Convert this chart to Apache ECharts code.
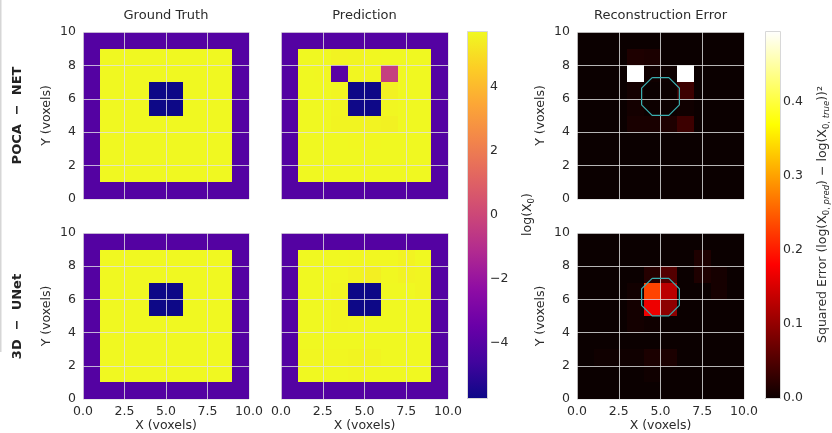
<!DOCTYPE html>
<html><head><meta charset="utf-8">
<script src="https://cdn.jsdelivr.net/npm/echarts@6/dist/echarts.min.js"></script>
<style>html,body{margin:0;padding:0;background:#fff}#c{width:832px;height:433px}</style>
</head><body><div id="c"></div>
<script>
// ---- data (rows listed from y=9 at top down to y=0) ----
const xTicks = [0, 2.5, 5, 7.5, 10];
const yTicks = [0, 2, 4, 6, 8, 10];
const logTicks = [-4, -2, 0, 2, 4];
const errTicks = [0, 0.1, 0.2, 0.3, 0.4];
const logRange = [-5.72, 5.75];
const errRange = [0, 0.495];

const truthGrid = [
  [-4.04,-4.04,-4.04,-4.04,-4.04,-4.04,-4.04,-4.04,-4.04,-4.04],
  [-4.04,5.72,5.72,5.72,5.72,5.72,5.72,5.72,5.72,-4.04],
  [-4.04,5.72,5.72,5.72,5.72,5.72,5.72,5.72,5.72,-4.04],
  [-4.04,5.72,5.72,5.72,-5.72,-5.72,5.72,5.72,5.72,-4.04],
  [-4.04,5.72,5.72,5.72,-5.72,-5.72,5.72,5.72,5.72,-4.04],
  [-4.04,5.72,5.72,5.72,5.72,5.72,5.72,5.72,5.72,-4.04],
  [-4.04,5.72,5.72,5.72,5.72,5.72,5.72,5.72,5.72,-4.04],
  [-4.04,5.72,5.72,5.72,5.72,5.72,5.72,5.72,5.72,-4.04],
  [-4.04,5.72,5.72,5.72,5.72,5.72,5.72,5.72,5.72,-4.04],
  [-4.04,-4.04,-4.04,-4.04,-4.04,-4.04,-4.04,-4.04,-4.04,-4.04]
];
const pocaPred = [
  [-4.04,-4.04,-4.04,-4.04,-4.04,-4.04,-4.04,-4.04,-4.04,-4.04],
  [-4.04,5.72,5.72,5.60,5.61,5.70,5.71,5.72,5.72,-4.04],
  [-4.04,5.72,5.70,-3.90,5.66,5.67,-0.30,5.71,5.72,-4.04],
  [-4.04,5.72,5.71,5.64,-5.72,-5.70,5.53,5.71,5.72,-4.04],
  [-4.04,5.72,5.71,5.64,-5.68,-5.69,5.66,5.71,5.72,-4.04],
  [-4.04,5.72,5.71,5.62,5.62,5.60,5.53,5.71,5.72,-4.04],
  [-4.04,5.72,5.72,5.71,5.70,5.70,5.71,5.72,5.72,-4.04],
  [-4.04,5.72,5.72,5.72,5.72,5.72,5.72,5.72,5.72,-4.04],
  [-4.04,5.72,5.72,5.72,5.72,5.72,5.72,5.72,5.72,-4.04],
  [-4.04,-4.04,-4.04,-4.04,-4.04,-4.04,-4.04,-4.04,-4.04,-4.04]
];
const unetPred = [
  [-4.04,-4.04,-4.04,-4.04,-4.04,-4.04,-4.04,-4.04,-4.04,-4.04],
  [-4.04,5.72,5.72,5.71,5.70,5.69,5.70,5.60,5.71,-4.04],
  [-4.04,5.72,5.71,5.70,5.58,5.49,5.70,5.60,5.63,-4.04],
  [-4.04,5.72,5.72,5.65,-6.20,-6.08,5.71,5.71,5.63,-4.04],
  [-4.04,5.72,5.72,5.64,-6.13,-6.03,5.71,5.72,5.72,-4.04],
  [-4.04,5.72,5.72,5.64,5.66,5.71,5.72,5.72,5.72,-4.04],
  [-4.04,5.72,5.72,5.72,5.72,5.72,5.72,5.72,5.72,-4.04],
  [-4.04,5.66,5.66,5.66,5.61,5.61,5.72,5.72,5.72,-4.04],
  [-4.04,5.72,5.72,5.72,5.66,5.72,5.72,5.72,5.72,-4.04],
  [-4.04,-4.04,-4.04,-4.04,-4.04,-4.04,-4.04,-4.04,-4.04,-4.04]
];
const pocaError = [
  [0,0,0,0,0,0,0,0,0,0],
  [0,0,0,0.0144,0.0121,0,0,0,0,0],
  [0,0,0,92.5,0.0036,0.0025,36.2,0,0,0],
  [0,0,0,0.0064,0,0.0004,0.036,0,0,0],
  [0,0,0,0.0064,0.0016,0.0009,0.0036,0,0,0],
  [0,0,0,0.01,0.01,0.0144,0.036,0,0,0],
  [0,0,0,0,0,0,0,0,0,0],
  [0,0,0,0,0,0,0,0,0,0],
  [0,0,0,0,0,0,0,0,0,0],
  [0,0,0,0,0,0,0,0,0,0]
];
const unetError = [
  [0,0,0,0,0,0,0,0,0,0],
  [0,0,0,0,0,0,0,0.0144,0,0],
  [0,0,0,0,0.0196,0.053,0,0.0144,0.0081,0],
  [0,0,0,0.0049,0.23,0.13,0,0,0.0081,0],
  [0,0,0,0.0064,0.168,0.096,0,0,0,0],
  [0,0,0,0.0064,0.0036,0,0,0,0,0],
  [0,0,0,0,0,0,0,0,0,0],
  [0,0.0036,0.0036,0.0036,0.0121,0.0121,0,0,0,0],
  [0,0,0,0,0.0036,0,0,0,0,0],
  [0,0,0,0,0,0,0,0,0,0]
];
const octX = [4.5, 5.5, 6.13, 6.13, 5.5, 4.5, 3.87, 3.87, 4.5];
const octY = [7.27, 7.27, 6.64, 5.64, 5.01, 5.01, 5.64, 6.64, 7.27];

// ---- colormaps ----
const plasmaStops = [[0,'#0d0887'],[0.1,'#41049d'],[0.2,'#6a00a8'],[0.3,'#8f0da4'],[0.4,'#b12a90'],[0.5,'#cc4778'],[0.6,'#e16462'],[0.7,'#f2844b'],[0.8,'#fca636'],[0.9,'#fcce25'],[1,'#f0f921']];
const hotStops = [[0,'#0b0000'],[0.365,'#ff0000'],[0.746,'#ffff00'],[1,'#ffffff']];
function hex2rgb(h){return [parseInt(h.substr(1,2),16),parseInt(h.substr(3,2),16),parseInt(h.substr(5,2),16)];}
function cmap(stops, t){
  t = Math.max(0, Math.min(1, t));
  for (let i = 1; i < stops.length; i++) {
    if (t <= stops[i][0]) {
      const a = stops[i-1], b = stops[i];
      const f = (t - a[0]) / (b[0] - a[0]);
      const ca = hex2rgb(a[1]), cb = hex2rgb(b[1]);
      return 'rgb(' + ca.map((v,k)=>Math.round(v + (cb[k]-v)*f)).join(',') + ')';
    }
  }
  return stops[stops.length-1][1];
}
function toCells(grid){
  const out = [];
  grid.forEach((row, r) => row.forEach((v, x) => out.push([x, 9 - r, v])));
  return out;
}
function cellRenderer(stops, range){
  return function(params, api){
    const x = api.value(0), y = api.value(1), v = api.value(2);
    const p0 = api.coord([x, y + 1]), p1 = api.coord([x + 1, y]);
    const x0 = Math.round(p0[0]), y0 = Math.round(p0[1]);
    const x1 = Math.round(p1[0]), y1 = Math.round(p1[1]);
    return {type:'rect', shape:{x:x0, y:y0, width:x1-x0, height:y1-y0},
      style:{fill: cmap(stops, (v - range[0]) / (range[1] - range[0]))}};
  };
}
function barRenderer(stops){
  return function(params, api){
    const p0 = api.coord([0, api.value(1)]), p1 = api.coord([1, api.value(0)]);
    return {type:'rect', shape:{x:Math.round(p0[0])+0.5, y:Math.round(p0[1])+0.5, width:Math.round(p1[0]-p0[0]), height:Math.round(p1[1]-p0[1])},
      style:{fill:{type:'linear', x:0, y:1, x2:0, y2:0, global:false,
        colorStops: stops.map(s => ({offset:s[0], color:s[1]}))}, stroke:'#d8d8d8', lineWidth:1}};
  };
}

const FONT = 'DejaVu Sans';
const TXT = '#2b2b2b';
const cols = [{left:83,width:166},{left:281,width:167},{left:577,width:167}];
const rows = [{top:32,height:167},{top:233,height:167}];
const panels = [
  {r:0,c:0,grid:truthGrid,stops:plasmaStops,range:logRange},
  {r:0,c:1,grid:pocaPred,stops:plasmaStops,range:logRange},
  {r:0,c:2,grid:pocaError,stops:hotStops,range:errRange},
  {r:1,c:0,grid:truthGrid,stops:plasmaStops,range:logRange},
  {r:1,c:1,grid:unetPred,stops:plasmaStops,range:logRange},
  {r:1,c:2,grid:unetError,stops:hotStops,range:errRange}
];
const grids = [], xAxes = [], yAxes = [], series = [];
const gridLine = {show:true, lineStyle:{color:'rgba(225,225,225,0.8)', width:1}};
panels.forEach((p, i) => {
  grids.push({left:cols[p.c].left, top:rows[p.r].top, width:cols[p.c].width, height:rows[p.r].height});
  xAxes.push({gridIndex:i, type:'value', min:xTicks[0], max:xTicks[xTicks.length-1], interval:xTicks[1]-xTicks[0], z:3,
    axisLine:{show:false}, axisTick:{show:false}, splitLine:gridLine,
    axisLabel:{show:p.r===1, formatter:v=>v.toFixed(1), fontSize:12.5, color:TXT, fontFamily:FONT, margin:6},
    name:p.r===1?'X (voxels)':'', nameLocation:'middle', nameGap:20,
    nameTextStyle:{fontSize:12.5, color:TXT, fontFamily:FONT}});
  yAxes.push({gridIndex:i, type:'value', min:yTicks[0], max:yTicks[yTicks.length-1], interval:yTicks[1]-yTicks[0], z:3,
    axisLine:{show:false}, axisTick:{show:false}, splitLine:gridLine,
    axisLabel:{show:p.c!==1, fontSize:12.5, color:TXT, fontFamily:FONT, margin:7},
    name:p.c!==1?'Y (voxels)':'', nameLocation:'middle', nameGap:30,
    nameTextStyle:{fontSize:12.5, color:TXT, fontFamily:FONT}});
  series.push({type:'custom', coordinateSystem:'cartesian2d', xAxisIndex:i, yAxisIndex:i,
    data:toCells(p.grid), renderItem:cellRenderer(p.stops, p.range), silent:true});
  if (p.c === 2) {
    series.push({type:'line', xAxisIndex:i, yAxisIndex:i, data:octX.map((x,k)=>[x, octY[k]]),
      showSymbol:false, symbol:'none', lineStyle:{color:'#3aaeb0', width:1.2}, z:5, silent:true});
  }
});
// colorbars
const bars = [
  {left:467, width:20, range:logRange, stops:plasmaStops, ticks:logTicks,
   fmt:v=>v<0?'\u2212'+Math.abs(v):String(v), name:'log(X{s|0})', gap:33},
  {left:765, width:19, range:errRange, stops:hotStops, ticks:errTicks,
   fmt:v=>v.toFixed(1), name:'Squared Error (log(X{s|0, }{si|pred}) \u2212 log(X{s|0, }{si|true}))\u00b2', gap:35}
];
bars.forEach((b, k) => {
  const gi = grids.length;
  grids.push({left:b.left, top:31, width:b.width, height:367});
  xAxes.push({gridIndex:gi, type:'value', min:0, max:1, show:false});
  yAxes.push({gridIndex:gi, type:'value', position:'right', min:b.range[0], max:b.range[1],
    axisLine:{show:false}, splitLine:{show:false},
    axisTick:{show:true, customValues:b.ticks, length:4, lineStyle:{color:'#555'}},
    axisLabel:{customValues:b.ticks, formatter:b.fmt, fontSize:12.5, color:TXT, fontFamily:FONT, margin:3},
    name:b.name, nameLocation:'middle', nameRotate:90, nameGap:b.gap,
    nameTextStyle:{fontSize:12.5, color:TXT, fontFamily:FONT, lineHeight:16,
      rich:{s:{fontSize:8.5, fontFamily:FONT, color:TXT, verticalAlign:'bottom', lineHeight:16},
            si:{fontSize:8.5, fontStyle:'italic', fontFamily:FONT, color:TXT, verticalAlign:'bottom', lineHeight:16}}}});
  series.push({type:'custom', coordinateSystem:'cartesian2d', xAxisIndex:gi, yAxisIndex:gi,
    data:[[b.range[0], b.range[1]]], renderItem:barRenderer(b.stops), silent:true});
});

const titles = [['Ground Truth', 166], ['Prediction', 364.5], ['Reconstruction Error', 660.5]];
const rowLabels = [['POCA  \u2212  NET', 115.5], ['3D  \u2212  UNet', 316.5]];
const graphic = [
  {type:'rect', shape:{x:0, y:0, width:1.5, height:352}, style:{fill:'#d6d6d6'}, silent:true}
];
titles.forEach(t => graphic.push({type:'text', x:t[1], y:16,
  style:{text:t[0], font:'13px "DejaVu Sans"', fill:TXT, textAlign:'center', textVerticalAlign:'middle'}}));
rowLabels.forEach(t => graphic.push({type:'text', x:18, y:t[1], rotation:Math.PI/2,
  style:{text:t[0], font:'bold 13px "DejaVu Sans"', fill:'#222', textAlign:'center', textVerticalAlign:'middle'}}));

const chart = echarts.init(document.getElementById('c'), null, {renderer:'canvas'});
chart.setOption({
  animation:false,
  backgroundColor:'#fff',
  textStyle:{fontFamily:FONT},
  grid:grids, xAxis:xAxes, yAxis:yAxes, series:series, graphic:graphic
});
</script></body></html>
